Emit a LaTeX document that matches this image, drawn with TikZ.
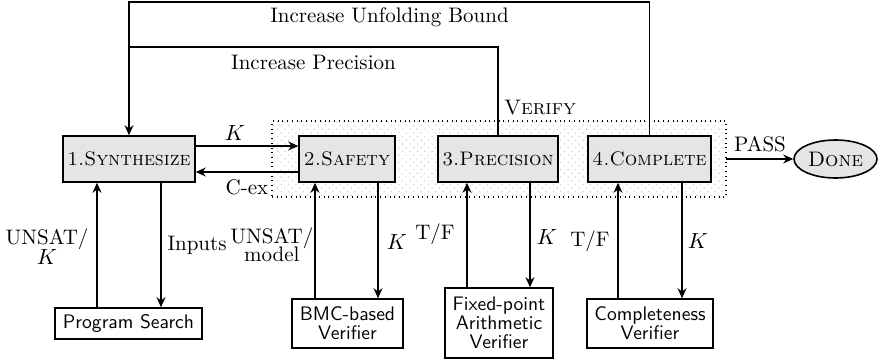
\documentclass[tikz,border=0pt]{standalone}
\usetikzlibrary{arrows.meta,patterns.meta,shapes.geometric}
\begin{document}
\begin{tikzpicture}[x=0.5pt,y=-0.5pt,font=\fontsize{10.5}{12}\selectfont,
  box/.style={draw=black,line width=0.8pt,fill=gray!20,inner sep=0pt,minimum height=23pt,font=\fontsize{9.8}{12}\selectfont\scshape},
  vbox/.style={draw=black,line width=0.8pt,fill=white,inner sep=0pt,align=center,font=\fontsize{9.8}{11}\selectfont\sffamily},
  arr/.style={line width=0.6pt,-{Stealth[length=5pt,width=4.5pt]}},
  ln/.style={line width=0.6pt},
  lbl/.style={inner sep=0pt,align=center}]
\useasboundingbox (0,0) rectangle (878,359);
% verify region
\node[draw=black,dotted,line width=0.7pt,inner sep=0pt,minimum width=227pt,minimum height=38pt,
  pattern={Lines[angle=-45,distance=2.6pt,line width=0.35pt]},pattern color=gray!55] (vreg) at (499,159) {};
\node[lbl,font=\fontsize{10.5}{12}\selectfont\scshape] (vlab) at (540,108) {Verify};
% main boxes
\node[box,minimum width=66pt] (syn) at (129,159) {1.Synthesize};
\node[box,minimum width=48pt] (saf) at (347,159) {2.Safety};
\node[box,minimum width=60pt] (pre) at (498,159) {3.Precision};
\node[box,minimum width=61.5pt] (com) at (649.5,159) {4.Complete};
\node[ellipse,draw=black,line width=0.8pt,fill=gray!20,inner sep=0pt,minimum width=41.5pt,minimum height=19pt,font=\fontsize{10.5}{12}\selectfont\scshape] (done) at (835.5,159) {Done};
% verifier boxes
\node[vbox,minimum width=73.5pt,minimum height=15.5pt] (ps) at (128.5,323.5) {Program Search};
\node[vbox,minimum width=55.5pt,minimum height=24.5pt] (bmc) at (347.5,323.5) {BMC-based\\[-1.5pt]Verifier};
\node[vbox,minimum width=54pt,minimum height=35pt] (fxp) at (499,323) {Fixed-point\\[-1.5pt]Arithmetic\\[-1.5pt]Verifier};
\node[vbox,minimum width=63pt,minimum height=24.5pt] (cv) at (650,323.5) {Completeness\\[-1.5pt]Verifier};
% x positions
\coordinate (xa) at (97,0);
\coordinate (xb) at (161,0);
\coordinate (xc) at (315,0);
\coordinate (xd) at (378,0);
\coordinate (xe) at (467,0);
\coordinate (xf) at (530,0);
\coordinate (xg) at (618,0);
\coordinate (xh) at (682,0);
\coordinate (ytop) at (0,2);
\coordinate (yprec) at (0,47);
% feedback loops
\draw[arr] (com.north) -- (com.north |- ytop) -| (syn.north);
\draw[ln] (pre.north) -- (pre.north |- yprec) -- (syn.north |- yprec);
\node[lbl] (lunf) at (389.5,17) {Increase Unfolding Bound};
\node[lbl] (lprec) at (313.5,62) {Increase Precision};
% syn <-> safety
\draw[arr] ([yshift=6.5pt]syn.east) -- ([yshift=6.5pt]saf.west);
\draw[arr] ([yshift=-6.5pt]saf.west) -- ([yshift=-6.5pt]syn.east);
\node[lbl] (lk1) at (235,133) {$K$};
\node[lbl] (lcex) at (247,187) {C-ex};
% pass
\draw[arr] (vreg.east |- com) -- (done.west);
\node[lbl] (lpass) at (760,144) {PASS};
% vertical links
\draw[arr] (ps.north -| xa) -- (syn.south -| xa);
\draw[arr] (syn.south -| xb) -- (ps.north -| xb);
\draw[arr] (bmc.north -| xc) -- (saf.south -| xc);
\draw[arr] (saf.south -| xd) -- (bmc.north -| xd);
\draw[arr] (fxp.north -| xe) -- (pre.south -| xe);
\draw[arr] (pre.south -| xf) -- (fxp.north -| xf);
\draw[arr] (cv.north -| xg) -- (com.south -| xg);
\draw[arr] (com.south -| xh) -- (cv.north -| xh);
% labels
\node[lbl] (lu1) at (47,247) {UNSAT/\\[-2pt]$K$};
\node[lbl,anchor=east] (linp) at (227,245) {Inputs};
\node[lbl,anchor=west] (lu2) at (230,245) {UNSAT/\\[-3pt]model};
\node[lbl] (lk2) at (397,242) {$K$};
\node[lbl] (ltf1) at (435,234) {T/F};
\node[lbl] (lk3) at (547,237) {$K$};
\node[lbl] (ltf2) at (590,241) {T/F};
\node[lbl] (lk4) at (698,241) {$K$};
\end{tikzpicture}
\end{document}
